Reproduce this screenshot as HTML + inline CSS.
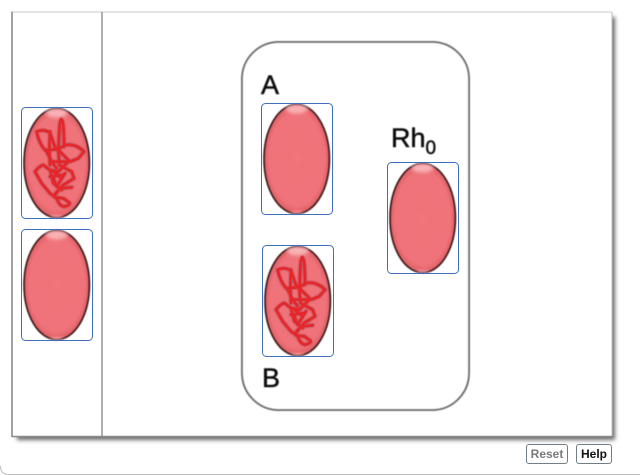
<!DOCTYPE html>
<html lang="en">
<head>
<meta charset="utf-8">
<style>
html,body{margin:0;padding:0;background:#fff;}
body{width:640px;height:475px;overflow:hidden;position:relative;font-family:"Liberation Sans",sans-serif;}
svg{position:absolute;left:0;top:0;}
.btn{position:absolute;top:444px;height:20px;box-sizing:border-box;border:1px solid #6f7f85;border-radius:3px;font:bold 12px/18px "Liberation Sans",sans-serif;text-align:center;background:#fff;}
</style>
</head>
<body>
<svg width="640" height="475" viewBox="0 0 640 475" xmlns="http://www.w3.org/2000/svg">
<defs>
<filter id="sh" x="-5%" y="-5%" width="110%" height="110%"><feGaussianBlur stdDeviation="2"/></filter>
<filter id="b1" x="-10%" y="-10%" width="120%" height="120%"><feGaussianBlur stdDeviation="0.5"/></filter>
<filter id="b2" x="-30%" y="-50%" width="160%" height="200%"><feGaussianBlur stdDeviation="1.8"/></filter>
<filter id="bt" x="-10%" y="-10%" width="120%" height="120%"><feGaussianBlur stdDeviation="0.4"/></filter>
<filter id="bs" x="-10%" y="-10%" width="120%" height="120%"><feGaussianBlur stdDeviation="1.8"/></filter>
<radialGradient id="fill" cx="50%" cy="50%" r="52%">
<stop offset="0" stop-color="#f1747a"/><stop offset="0.82" stop-color="#f0727a"/><stop offset="1" stop-color="#d85a5e"/>
</radialGradient>
<clipPath id="ec"><ellipse cx="35.7" cy="56" rx="33" ry="55"/></clipPath>
<g id="cell">
<g filter="url(#b1)">
<ellipse cx="35.7" cy="56" rx="32.6" ry="54.6" fill="url(#fill)" stroke="#3c1a1d" stroke-width="1.9"/>
<g clip-path="url(#ec)">
<ellipse cx="35.7" cy="6" rx="11" ry="4.5" fill="#f9b3b6" filter="url(#b2)"/>
<ellipse cx="35.7" cy="110" rx="7" ry="1.5" fill="#f7adb0" filter="url(#b2)"/>
</g>
</g>
<rect x="0.5" y="0.5" width="71" height="111" rx="4" ry="4" fill="none" stroke="#3f6fbe" stroke-width="1"/>
</g>
<path id="sqp" d="M176 170 Q178 88 184 88 Q192 90 192 170 M165 172 L150 128 Q130 116 110 125 Q118 165 140 185 L155 215 L170 235 M195 165 Q228 160 252 185 L235 205 L210 215 L190 195 L165 170 M140 180 L175 178 L195 165 M175 180 L178 225 L215 245 L222 265 L190 285 L165 312 M105 245 Q118 228 130 225 L150 240 L175 245 L205 215 M105 245 L125 280 L150 310 L170 325 Q178 348 192 350 Q212 345 208 338 L190 325 L165 322 M215 292 L180 295 L165 315 M150 240 L160 280 L185 300 M175 245 L160 265 L170 290 L195 250 M150 125 L148 180 L150 225 M155 215 L205 215 M150 260 L190 255 M160 245 L185 265"/>
<g id="cellr">
<use href="#cell"/>
<g transform="scale(0.3333) translate(-63,-51)" fill="none" stroke-linejoin="round" stroke-linecap="round">
<use href="#sqp" stroke="#a83a40" stroke-width="13" opacity="0.55" filter="url(#bs)"/>
<use href="#sqp" stroke="#e6262c" stroke-width="7.5" filter="url(#b1)"/>
</g>
</g>
</defs>

<!-- outer faint frame -->
<path d="M0.5 466 Q0.5 474.5 9 474.5 L640 474.5" fill="none" stroke="#bcbcbc" stroke-width="1"/>

<!-- main panel -->
<rect x="17" y="17" width="598" height="423" fill="#444" opacity="0.8" filter="url(#sh)"/>
<rect x="12" y="12" width="600" height="424" fill="#fff"/>
<path d="M12 12 H612" stroke="#c8c8c8" stroke-width="1" fill="none"/>
<path d="M612 12 V436" stroke="#bdbdbd" stroke-width="1" fill="none"/>
<path d="M12 11.5 V436.5 H612" stroke="#8a8a8a" stroke-width="1.6" fill="none"/>
<path d="M102 12 V436" stroke="#8c8c8c" stroke-width="1.4" fill="none"/>

<!-- rounded group box -->
<rect x="242" y="42" width="227" height="368" rx="37" ry="37" fill="#fff" stroke="#6f6f6f" stroke-width="2" filter="url(#b1)"/>

<g filter="url(#bt)" font-family="Liberation Sans, sans-serif" fill="#111" stroke="#111" stroke-width="0.5">
<text x="261" y="94" font-size="27">A</text>
<text x="262" y="387" font-size="27">B</text>
<text x="391" y="147" font-size="27">Rh<tspan font-size="19" dy="7">0</tspan></text>
</g>

<use href="#cellr" x="21" y="107"/>
<use href="#cell" x="21" y="229"/>
<use href="#cell" x="261" y="103"/>
<use href="#cell" x="387" y="162"/>
<use href="#cellr" x="262" y="245"/>
</svg>
<div class="btn" style="left:526px;width:42px;color:#7a7a7a;">Reset</div>
<div class="btn" style="left:576px;width:36px;color:#111;">Help</div>
</body>
</html>
